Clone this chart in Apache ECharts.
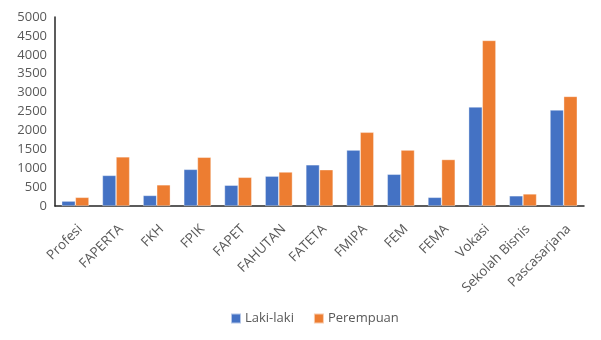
<!DOCTYPE html>
<html>
<head>
<meta charset="utf-8">
<script src="https://cdn.jsdelivr.net/npm/echarts@6/dist/echarts.min.js"></script>
<style>
  html, body { margin: 0; padding: 0; background: #fff; }
  #chart { width: 601px; height: 340px; }
</style>
</head>
<body>
<div id="chart"></div>
<script>
// Faculties / schools on the x axis
const categories = ['Profesi', 'FAPERTA', 'FKH', 'FPIK', 'FAPET', 'FAHUTAN', 'FATETA',
  'FMIPA', 'FEM', 'FEMA', 'Vokasi', 'Sekolah Bisnis', 'Pascasarjana'];

// Student counts by gender
const lakiLaki = [130, 810, 280, 970, 550, 790, 1090, 1480, 840, 230, 2620, 270, 2540];
const perempuan = [230, 1300, 560, 1290, 760, 900, 960, 1950, 1480, 1230, 4380, 320, 2900];

const seriesNames = ['Laki-laki', 'Perempuan'];
const colors = ['#4472C4', '#ED7D31'];

const font = '"Open Sans", "Noto Sans", sans-serif';

const chart = echarts.init(document.getElementById('chart'), null, { renderer: 'canvas' });
chart.setOption({
  animation: false,
  color: colors,
  textStyle: { fontFamily: font },
  grid: { left: 55, right: 17, top: 17, bottom: 134, containLabel: false },
  legend: {
    top: 307,
    left: 225,
    itemWidth: 10,
    itemHeight: 10,
    itemGap: 19,
    icon: 'rect',
    textStyle: { fontFamily: font, fontSize: 13, color: '#595959', padding: [0, 0, 0, -1] },
    data: seriesNames
  },
  xAxis: {
    type: 'category',
    data: categories,
    axisLine: { show: true, lineStyle: { color: '#262626', width: 1.5 } },
    axisTick: { show: false },
    axisLabel: {
      interval: 0,
      rotate: 45,
      margin: 16,
      verticalAlign: 'top',
      fontSize: 13.5,
      color: '#595959',
      fontFamily: font
    }
  },
  yAxis: {
    type: 'value',
    min: 0,
    max: 5000,
    interval: 500,
    axisLine: { show: true, lineStyle: { color: '#262626', width: 1.5 } },
    axisTick: { show: false },
    splitLine: { show: false },
    axisLabel: {
      fontSize: 13,
      color: '#595959',
      margin: 8,
      fontFamily: font,
      formatter: function (v) { return String(v); }
    }
  },
  series: [
    {
      name: seriesNames[0],
      type: 'bar',
      data: lakiLaki,
      barGap: '0%',
      barCategoryGap: '33%',
      itemStyle: { borderColor: 'rgba(255,255,255,0.6)', borderWidth: 0.6 }
    },
    {
      name: seriesNames[1],
      type: 'bar',
      data: perempuan,
      barGap: '0%',
      barCategoryGap: '33%',
      itemStyle: { borderColor: 'rgba(255,255,255,0.6)', borderWidth: 0.6 }
    }
  ]
});
</script>
</body>
</html>
